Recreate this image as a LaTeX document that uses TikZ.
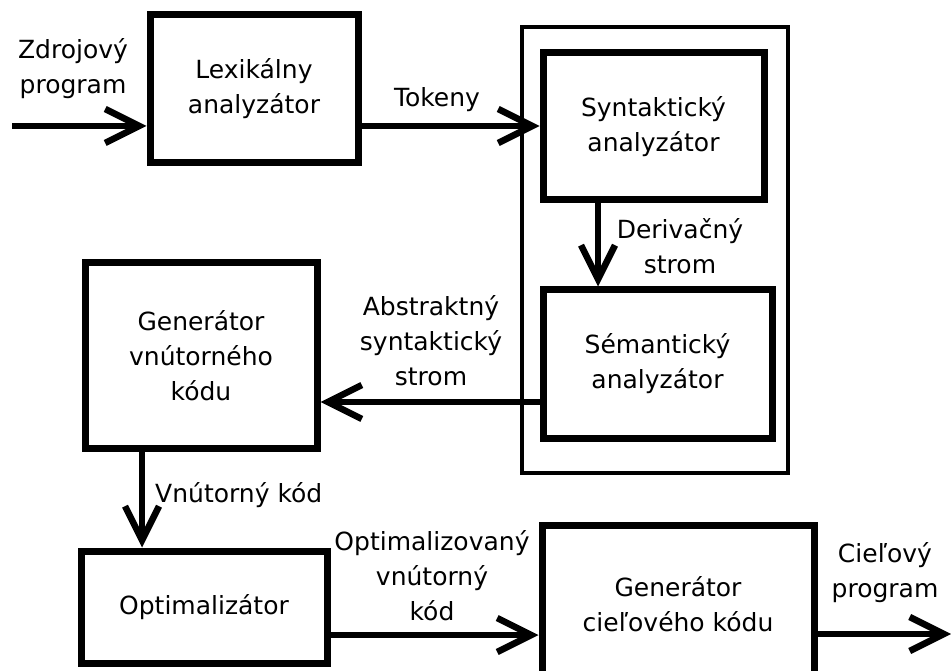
\documentclass[tikz,border=0pt]{standalone}
\usepackage{fontspec}
\setmainfont{DejaVu Sans}
\usetikzlibrary{arrows.meta}
\begin{document}
\begin{tikzpicture}[x=1pt,y=-1pt,
  every node/.style={font=\fontsize{25}{35}\selectfont, inner sep=0pt, align=center},
  blok/.style={draw, line width=7pt, rectangle, minimum width=#1},
  flow/.style={line width=6.5pt, -{Straight Barb[length=34pt,width=34pt,line width=6.5pt,sharp]}},
  lbl/.style={}]
\clip (0,0) rectangle (951,671);
\fill[white] (0,0) rectangle (951,671);
% group frame
\node[draw, line width=3.5pt, minimum width=266pt, minimum height=446pt] (grp) at (655,250) {};
% boxes
\node[blok=208pt, minimum height=148pt] (lex) at (254,89) {Lexikálny\\analyzátor};
\node[blok=221pt, minimum height=147pt] (syn) at (653.5,126.5) {Syntaktický\\analyzátor};
\node[blok=229pt, minimum height=148pt] (sem) at (657.5,364) {Sémantický\\analyzátor};
\node[blok=232pt, minimum height=185pt] (gen) at (201,355.5) {Generátor\\vnútorného\\kódu};
\node[blok=246pt, minimum height=112pt] (opt) at (204,607) {Optimalizátor};
\node[blok=272pt, minimum height=158pt] (gcod) at (678,604) {Generátor\\cieľového kódu};
% free ends
\coordinate (in) at (12,126);
\coordinate (out) at (951,634);
% connectors
\draw[flow] (in) -- (in -| lex.west);
\draw[flow] (lex.east |- 0,126) -- (syn.west |- 0,126);
\draw[flow] (598,0 |- syn.south) -- (598,0 |- sem.north);
\draw[flow] (sem.west |- 0,402) -- (gen.east |- 0,402);
\draw[flow] (142,0 |- gen.south) -- (142,0 |- opt.north);
\draw[flow] (opt.east |- 0,635) -- (gcod.west |- 0,635);
\draw[flow] (gcod.east |- out) -- (out);
% labels
\node[lbl] (lzdroj) at (73,69) {Zdrojový\\program};
\node[lbl, anchor=base] (ltok) at (437,107) {Tokeny};
\node[lbl] (lder) at (680,246) {Derivačný\\strom};
\node[lbl] (labs) at (431,340.5) {Abstraktný\\syntaktický\\strom};
\node[lbl, anchor=base west] (lvnut) at (155,502) {Vnútorný kód};
\node[lbl] (lopt) at (432,575.5) {Optimalizovaný\\vnútorný\\kód};
\node[lbl] (lciel) at (885,573) {Cieľový\\program};
\end{tikzpicture}
\end{document}
